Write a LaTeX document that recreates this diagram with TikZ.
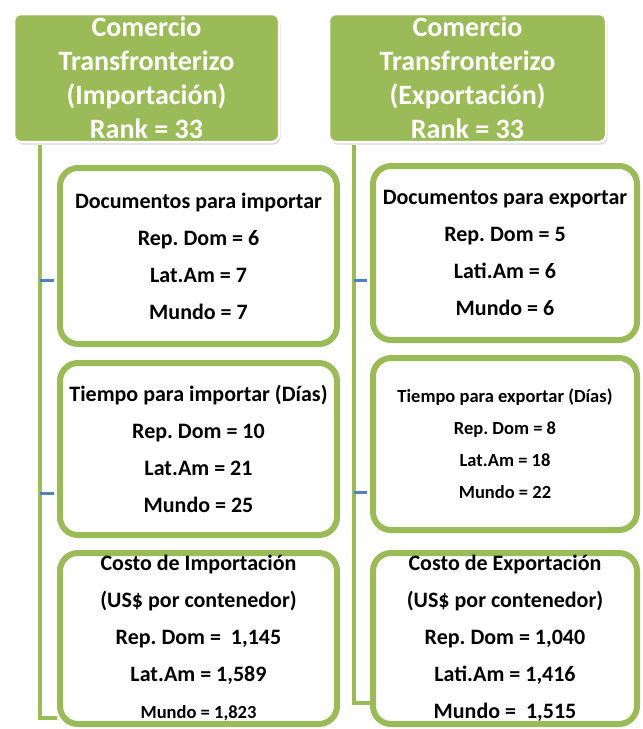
\documentclass[tikz,border=0pt]{standalone}
\usepackage{fontspec}
\setmainfont{Carlito}
\frenchspacing
\usetikzlibrary{positioning,shadows}
\definecolor{hdrgreen}{HTML}{9BBB59}
\definecolor{branchblue}{HTML}{4F81BD}
\tikzset{
  header/.style={fill=hdrgreen, draw=white, line width=2.5pt, rounded corners=7pt,
    text=white, align=center, inner sep=0pt, font=\bfseries\fontsize{28}{34}\selectfont,
    drop shadow={shadow xshift=1.5pt, shadow yshift=-2.5pt, opacity=0.3}},
  infobox/.style={draw=hdrgreen, fill=white, line width=6pt, rounded corners=18pt,
    align=center, inner sep=0pt, font=\bfseries\fontsize{22}{37}\selectfont},
  trunk/.style={draw=hdrgreen, line width=4pt},
  branch/.style={draw=branchblue, line width=3pt, shorten >=3pt}
}
\begin{document}
\begin{tikzpicture}[x=1pt,y=-1pt]
  \useasboundingbox[fill=white] (0,0) rectangle (643,729);
  \node[header, minimum width=265pt, minimum height=128pt] (imphdr) at (146.5,78) {Comercio\\Transfronterizo\\(Importación)\\Rank = 33};
  \node[header, minimum width=277pt, minimum height=128pt] (exphdr) at (467.5,78) {Comercio\\Transfronterizo\\(Exportación)\\Rank = 33};

  \node[infobox, minimum width=277pt, minimum height=176pt] (impdocs) at (198.5,256) {Documentos para importar\\Rep. Dom = 6\\Lat.Am = 7\\Mundo = 7};
  \node[infobox, minimum width=277pt, minimum height=172pt] (imptime) at (198.5,449) {Tiempo para importar (Días)\\Rep. Dom = 10\\Lat.Am = 21\\Mundo = 25};
  \node[infobox, minimum width=277pt, minimum height=171pt] (impcost) at (198.5,638.5) {Costo de Importación\\(US\$ por contenedor)\\Rep. Dom = \ 1,145\\Lat.Am = 1,589\\{\fontsize{18.5}{37}\selectfont Mundo = 1,823}};

  \node[infobox, minimum width=264pt, minimum height=174pt] (expdocs) at (505,253) {Documentos para exportar\\Rep. Dom = 5\\Lati.Am = 6\\Mundo = 6};
  \node[infobox, minimum width=264pt, minimum height=172pt, font=\bfseries\fontsize{18.5}{32}\selectfont] (exptime) at (505,444) {Tiempo para exportar (Días)\\Rep. Dom = 8\\Lat.Am = 18\\Mundo = 22};
  \node[infobox, minimum width=264pt, minimum height=171pt] (expcost) at (505,638.5) {Costo de Exportación\\(US\$ por contenedor)\\Rep. Dom = 1,040\\Lati.Am = 1,416\\Mundo = \ 1,515};

  \coordinate (imptop) at (40,145);
  \coordinate (impbot) at (40,718);
  \coordinate (impb1) at (40,280);
  \coordinate (impb2) at (40,493);
  \draw[trunk] (imptop) -- (impbot) -- (impbot -| impcost.west);
  \draw[branch] (impb1) -- (impb1 -| impdocs.west);
  \draw[branch] (impb2) -- (impb2 -| imptime.west);

  \coordinate (exptop) at (354,145);
  \coordinate (expbot) at (354,703);
  \coordinate (expb1) at (354,280);
  \coordinate (expb2) at (354,492);
  \draw[trunk] (exptop) -- (expbot) -- (expbot -| expcost.west);
  \draw[branch] (expb1) -- (expb1 -| expdocs.west);
  \draw[branch] (expb2) -- (expb2 -| exptime.west);
\end{tikzpicture}
\end{document}
